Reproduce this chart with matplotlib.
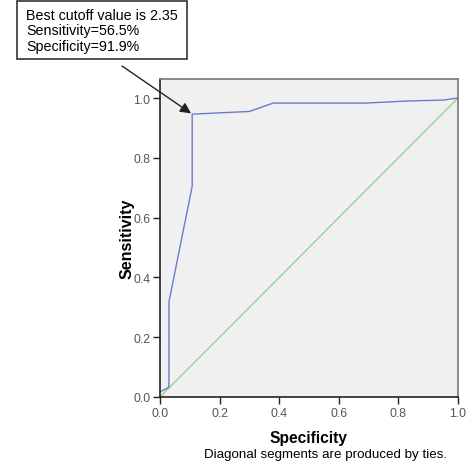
import matplotlib
matplotlib.use("Agg")
import matplotlib.pyplot as plt
from matplotlib.patches import Rectangle

plt.rcParams['font.family'] = ['Liberation Sans', 'DejaVu Sans']

# ROC curve (x axis labeled "Specificity" as in the original)
roc_x = [0.0, 0.03, 0.03, 0.108, 0.108, 0.30, 0.38, 0.69, 0.83, 0.95, 1.0]
roc_y = [0.017, 0.033, 0.318, 0.705, 0.946, 0.955, 0.983, 0.983, 0.99, 0.993, 1.0]
ref_x = [0.0, 1.0]
ref_y = [0.0, 1.0]
ticks = [0.0, 0.2, 0.4, 0.6, 0.8, 1.0]
tick_labels = ["0.0", "0.2", "0.4", "0.6", "0.8", "1.0"]
best_point = (0.108, 0.946)
annotation = "Best cutoff value is 2.35\nSensitivity=56.5%\nSpecificity=91.9%"

W, H = 469, 464
fig = plt.figure(figsize=(W/100, H/100), dpi=100)
ax = fig.add_axes([160/W, 66/H, 298/W, 318/H])
ax.set_facecolor('#f0f0f0')
ax.plot(ref_x, ref_y, color='#8fd88f', lw=1.0)
ax.plot(roc_x, roc_y, color='#6a7bcc', lw=1.0)
ax.set_xlim(0, 1.0)
ax.set_ylim(0, 318/299)
ax.set_xticks(ticks)
ax.set_xticklabels(tick_labels)
ax.set_yticks(ticks)
ax.set_yticklabels(tick_labels)
ax.tick_params(direction='out', length=5, width=1, colors='#222222',
               labelsize=8.8, labelcolor='#555555', pad=2)
for side in ['left', 'bottom']:
    ax.spines[side].set_color('#222222')
    ax.spines[side].set_linewidth(1.2)
for side in ['top', 'right']:
    ax.spines[side].set_color('#777777')
    ax.spines[side].set_linewidth(1.2)

ax.set_xlabel('Specificity', fontsize=11.2, fontweight='bold', labelpad=8)
ax.set_ylabel('Sensitivity', fontsize=11.5, fontweight='bold', labelpad=-1)
fig.text(326/W, 1 - 455/H, 'Diagonal segments are produced by ties.',
         ha='center', va='center', fontsize=9.6)

# annotation box
fig.patches.append(Rectangle((17/W, 1 - 60/H), 170/W, 58/H,
                             transform=fig.transFigure, fc='white',
                             ec='#333333', lw=1.2))
fig.text(26/W, 1 - 9/H, annotation, ha='left', va='top',
         fontsize=10.3, linespacing=1.12)
ax.annotate('', xy=best_point, xycoords='data',
            xytext=(122/W, 1 - 67/H), textcoords='figure fraction',
            arrowprops=dict(arrowstyle='-|>', color='#222222', lw=1,
                            mutation_scale=16, shrinkA=0, shrinkB=1),
            annotation_clip=False)

fig.savefig('out.png', dpi=100)
